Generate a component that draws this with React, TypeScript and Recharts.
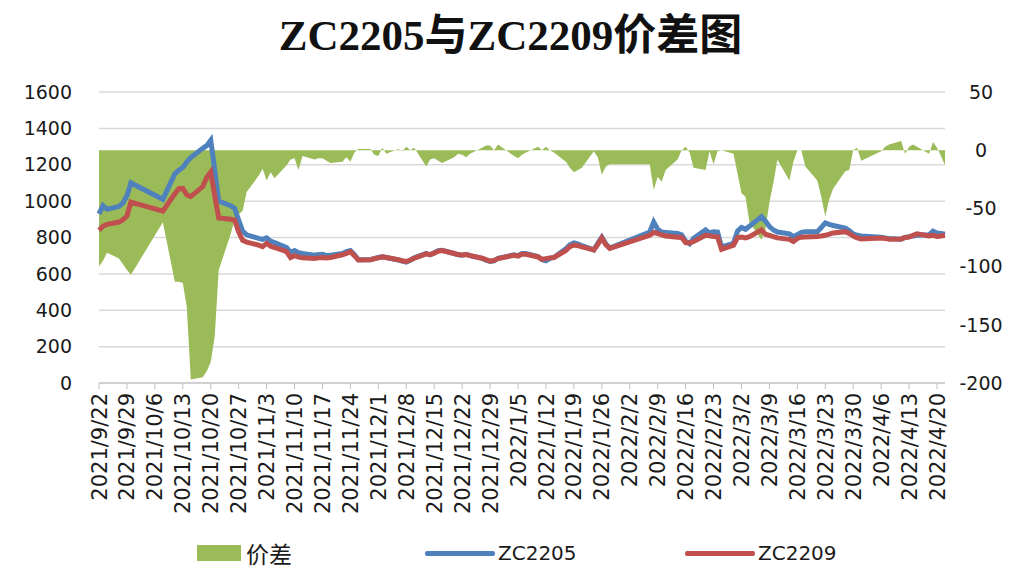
import React from "react";
import { ComposedChart, Area, Line, XAxis, YAxis, CartesianGrid } from "recharts";

// trading days
const dates = [
  "2021/9/22", "2021/9/23", "2021/9/24", "2021/9/27", "2021/9/28", "2021/9/29", "2021/9/30",
  "2021/10/8", "2021/10/11", "2021/10/12", "2021/10/13", "2021/10/14", "2021/10/15", "2021/10/18", "2021/10/19",
  "2021/10/20", "2021/10/21", "2021/10/22", "2021/10/25", "2021/10/26", "2021/10/27", "2021/10/28", "2021/10/29",
  "2021/11/1", "2021/11/2", "2021/11/3", "2021/11/4", "2021/11/5", "2021/11/8", "2021/11/9", "2021/11/10",
  "2021/11/11", "2021/11/12", "2021/11/15", "2021/11/16", "2021/11/17", "2021/11/18", "2021/11/19", "2021/11/22",
  "2021/11/23", "2021/11/24", "2021/11/25", "2021/11/26", "2021/11/29", "2021/11/30",
  "2021/12/1", "2021/12/2", "2021/12/3", "2021/12/6", "2021/12/7", "2021/12/8", "2021/12/9", "2021/12/10",
  "2021/12/13", "2021/12/14", "2021/12/15", "2021/12/16", "2021/12/17", "2021/12/20", "2021/12/21", "2021/12/22",
  "2021/12/23", "2021/12/24", "2021/12/27", "2021/12/28", "2021/12/29", "2021/12/30", "2021/12/31",
  "2022/1/4", "2022/1/5", "2022/1/6", "2022/1/7", "2022/1/10", "2022/1/11", "2022/1/12", "2022/1/13", "2022/1/14",
  "2022/1/17", "2022/1/18", "2022/1/19", "2022/1/20", "2022/1/21", "2022/1/24", "2022/1/25", "2022/1/26",
  "2022/1/27", "2022/1/28",
  "2022/2/7", "2022/2/8", "2022/2/9", "2022/2/10", "2022/2/11", "2022/2/14", "2022/2/15", "2022/2/16",
  "2022/2/17", "2022/2/18", "2022/2/21", "2022/2/22", "2022/2/23", "2022/2/24", "2022/2/25", "2022/2/28",
  "2022/3/1", "2022/3/2", "2022/3/3", "2022/3/4", "2022/3/7", "2022/3/8", "2022/3/9", "2022/3/10", "2022/3/11",
  "2022/3/14", "2022/3/15", "2022/3/16", "2022/3/17", "2022/3/18", "2022/3/21", "2022/3/22", "2022/3/23",
  "2022/3/24", "2022/3/25", "2022/3/28", "2022/3/29", "2022/3/30", "2022/3/31",
  "2022/4/1", "2022/4/6", "2022/4/7", "2022/4/8", "2022/4/11", "2022/4/12", "2022/4/13", "2022/4/14",
  "2022/4/15", "2022/4/18", "2022/4/19", "2022/4/20", "2022/4/21", "2022/4/22",
];

const zc2205 = [
  930, 975, 955, 970, 990, 1030, 1100,
  1010, 1150, 1170, 1185, 1215, 1240, 1290, 1305, 1335, 1170, 1000, 975, 960, 895, 835, 815,
  795, 790, 798, 780, 772, 745, 718, 728, 716, 712, 703, 706, 708, 700, 703, 712, 722, 728, 705, 678, 678, 685,
  690, 695, 690, 676, 670, 665, 675, 688, 712, 705, 716, 728, 730, 712, 705, 703, 708, 700, 685, 676, 668, 672, 685,
  705, 700, 712, 712, 695, 678, 672, 685, 690, 738, 760, 770, 765, 755, 732, 768, 802, 765, 742,
  830, 885, 845, 830, 828, 822, 815, 780, 765, 795, 842, 825, 832, 830, 748, 768,
  835, 855, 845, 862, 915, 890, 860, 842, 830, 820, 805, 815, 828, 832, 832, 855, 880, 872, 866, 852, 838, 820, 812,
  808, 802, 798, 795, 790, 800, 805, 808, 812, 815, 835, 825, 822, 818,
];

const zc2209 = [
  840, 862, 872, 885, 898, 918, 995,
  945, 1040, 1068, 1070, 1035, 1025, 1080, 1130, 1160, 1030, 907, 900, 895, 830, 785, 775,
  758, 750, 768, 752, 745, 722, 690, 700, 692, 688, 685, 688, 690, 688, 690, 705, 712, 722, 700, 676, 678, 683,
  688, 693, 690, 678, 672, 668, 676, 686, 710, 706, 714, 724, 728, 712, 706, 704, 706, 700, 686, 678, 670, 674, 684,
  702, 698, 708, 708, 693, 680, 684, 688, 690, 728, 750, 758, 755, 748, 732, 762, 797, 760, 740,
  812, 828, 822, 815, 808, 802, 800, 772, 770, 778, 812, 810, 806, 804, 735, 758,
  800, 802, 798, 805, 842, 818, 812, 805, 798, 790, 778, 795, 802, 803, 805, 808, 812, 818, 825, 832, 822, 808, 798,
  792, 797, 795, 790, 792, 800, 802, 812, 820, 808, 812, 806, 808, 812,
];

const spread = [
  -100, -95, -88, -93, -98, -103, -107,
  -62, -113, -113, -114, -135, -197, -195, -190, -182, -160, -103, -72, -60, -55, -52, -36,
  -22, -16, -26, -19, -24, -13, -8, -7, -17, -5, -8, -7, -7, -9, -11, -10, -6, -10, -2, 1, 1, -4,
  -5, 2, -3, 1, -1, 3, 0, 2, -14, -8, -7, -9, -11, -6, -3, -4, -6, -3, 2, 4, 4, 0, 5,
  -5, -7, -4, -2, 3, 0, 3, 0, -2, -10, -15, -19, -17, -15, -1, -6, -21, -14, -12,
  -12, -34, -23, -27, -17, -8, 0, 3, -2, -15, -17, -1, -12, -1, 0, -3,
  -20, -37, -40, -62, -77, -68, -45, -28, -8, -26, -10, 0, 0, -14, -26, -40, -57, -42, -33, -18, -17, 0, 2,
  -9, -1, 3, 5, 8, -3, 3, 5, 3, -3, 7, 2, -5, -13,
];

const xTickLabels = [
  "2021/9/22", "2021/9/29", "2021/10/6", "2021/10/13", "2021/10/20", "2021/10/27", "2021/11/3",
  "2021/11/10", "2021/11/17", "2021/11/24", "2021/12/1", "2021/12/8", "2021/12/15", "2021/12/22",
  "2021/12/29", "2022/1/5", "2022/1/12", "2022/1/19", "2022/1/26", "2022/2/2", "2022/2/9",
  "2022/2/16", "2022/2/23", "2022/3/2", "2022/3/9", "2022/3/16", "2022/3/23", "2022/3/30",
  "2022/4/6", "2022/4/13", "2022/4/20",
];
const leftTicks = [0, 200, 400, 600, 800, 1000, 1200, 1400, 1600];
const rightTicks = [-200, -150, -100, -50, 0, 50];

const START = Date.UTC(2021, 8, 22);
const DAY = 86400000;
const dayOf = (s: string) => {
  const [y, m, d] = s.split("/").map(Number);
  return Math.round((Date.UTC(y, m - 1, d) - START) / DAY);
};
const labelOf = new Map(xTickLabels.map((s) => [dayOf(s), s]));

const data = dates.map((d, i) => ({
  day: dayOf(d),
  zc2205: zc2205[i],
  zc2209: zc2209[i],
  spread: spread[i],
}));

const FONT = "'DejaVu Sans', sans-serif";

const XTick = ({ x, y, payload }: any) => (
  <g transform={`translate(${x},${y})`}>
    <text transform="rotate(-90)" x={-2} y={0} dy="0.36em" textAnchor="end" fontFamily={FONT} fontSize={21} fill="#1a1a1a">
      {labelOf.get(payload.value)}
    </text>
  </g>
);

const RightTick = ({ x, y, payload }: any) => (
  <text x={x + 28} y={y} dy="0.36em" textAnchor="middle" fontFamily={FONT} fontSize={19} fill="#1a1a1a">
    {payload.value}
  </text>
);

export default function App() {
  return (
    <div style={{ position: "absolute", left: 0, top: 0, width: 1021, height: 569, background: "#fff", overflow: "hidden" }}>
      <div
        style={{
          position: "absolute", left: 0, top: 10, width: 1021, textAlign: "center", lineHeight: "52px",
          fontFamily: "'Liberation Serif', 'Noto Sans CJK SC', serif", fontWeight: "bold", fontSize: 43, color: "#111",
        }}
      >
        ZC2205与ZC2209价差图
      </div>
      <ComposedChart width={1021} height={569} data={data} margin={{ top: 92, right: 0, bottom: 0, left: 0 }}>
        <CartesianGrid yAxisId="left" vertical={false} stroke="#D9D9D9" strokeWidth={1.5} />
        <XAxis
          dataKey="day"
          type="number"
          domain={[0, 212]}
          ticks={xTickLabels.map(dayOf)}
          interval={0}
          height={186}
          stroke="#BFBFBF"
          tickSize={6}
          tickMargin={2}
          tick={<XTick />}
        />
        <YAxis
          yAxisId="left"
          width={99}
          domain={[0, 1600]}
          ticks={leftTicks}
          axisLine={false}
          tickLine={false}
          tickMargin={21}
          tick={{ fontSize: 19, fill: "#1a1a1a", fontFamily: FONT }}
        />
        <YAxis
          yAxisId="right"
          orientation="right"
          width={76}
          domain={[-200, 50]}
          ticks={rightTicks}
          axisLine={false}
          tickLine={false}
          tick={<RightTick />}
        />
        <Area
          yAxisId="right"
          type="linear"
          dataKey="spread"
          fill="#9BBB59"
          fillOpacity={1}
          stroke="none"
          baseValue={0}
          isAnimationActive={false}
        />
        <Line yAxisId="left" type="linear" dataKey="zc2205" stroke="#4F81BD" strokeWidth={5} dot={false} isAnimationActive={false} />
        <Line yAxisId="left" type="linear" dataKey="zc2209" stroke="#C0504D" strokeWidth={5} dot={false} isAnimationActive={false} />
      </ComposedChart>
      <div style={{ position: "absolute", top: 538, left: 0, width: 1021, height: 30, fontFamily: FONT, fontSize: 20, lineHeight: "30px", color: "#1a1a1a" }}>
        <div style={{ position: "absolute", left: 197, top: 7, width: 44, height: 16, background: "#9BBB59" }} />
        <span style={{ position: "absolute", left: 246, top: 0, fontFamily: "'Noto Sans CJK SC', sans-serif", fontSize: 23 }}>价差</span>
        <div style={{ position: "absolute", left: 425, top: 13, width: 70, height: 5, background: "#4F81BD", borderRadius: 2 }} />
        <span style={{ position: "absolute", left: 498, top: 0 }}>ZC2205</span>
        <div style={{ position: "absolute", left: 685, top: 13, width: 70, height: 5, background: "#C0504D", borderRadius: 2 }} />
        <span style={{ position: "absolute", left: 758, top: 0 }}>ZC2209</span>
      </div>
    </div>
  );
}
